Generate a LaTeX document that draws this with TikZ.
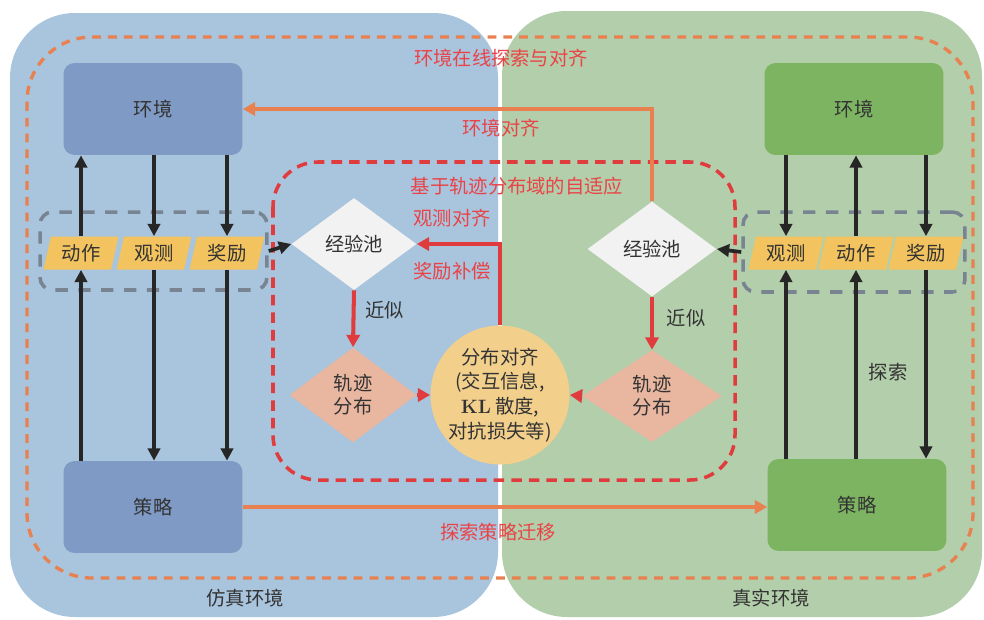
\documentclass[tikz,border=0pt]{standalone}
\usepackage{fontspec}
\newfontfamily\cjk{Noto Sans CJK SC}
\usetikzlibrary{shapes.geometric,arrows.meta}
\definecolor{simbg}{HTML}{A9C4DD}
\definecolor{realbg}{HTML}{B3CEAA}
\definecolor{simbox}{HTML}{7F9AC4}
\definecolor{realbox}{HTML}{7DB462}
\definecolor{sigyellow}{HTML}{F2C35E}
\definecolor{poolwhite}{HTML}{F2F2F2}
\definecolor{trajpink}{HTML}{E9B6A0}
\definecolor{distyellow}{HTML}{F2D08C}
\definecolor{orng}{HTML}{E8804F}
\definecolor{redline}{HTML}{E03C3E}
\definecolor{redtext}{HTML}{EA4347}
\definecolor{grayline}{HTML}{788491}
\definecolor{txtgray}{HTML}{333333}

\begin{document}
\begin{tikzpicture}[x=0.02cm,y=-0.02cm,
	every node/.style={font=\cjk\fontsize{11}{13}\selectfont, text=txtgray},
	box/.style={rounded corners=0.22cm, minimum width=3.58cm, minimum height=1.84cm},
	sig/.style={trapezium, trapezium left angle=75, trapezium right angle=105,
		trapezium stretches=true, fill=sigyellow, minimum width=1.5cm,
		minimum height=0.66cm, inner sep=0pt},
	grp/.style={draw=grayline, line width=2pt, dash pattern=on 7pt off 6pt,
		rounded corners=0.25cm, minimum width=4.54cm, minimum height=1.56cm},
	pool/.style={diamond, fill=poolwhite, inner sep=0pt},
	traj/.style={diamond, fill=trajpink, inner sep=0pt, align=center,
		font=\cjk\fontsize{11}{13}\selectfont},
	redlbl/.style={text=redtext},
	blk/.style={-{Triangle[length=7pt,width=7pt]}, line width=2.1pt, draw=black!85},
	orngarr/.style={-{Triangle[length=7pt,width=7.5pt]}, line width=2.1pt, draw=orng},
	redarr/.style={-{Triangle[length=7pt,width=7.5pt]}, line width=2.3pt, draw=redline}]

	\useasboundingbox (0,0) rectangle (984,619);
	\fill[white] (0,0) rectangle (984,619);

	\fill[simbg, rounded corners=1.3cm] (10,13) rectangle (498,617);
	\fill[realbg, rounded corners=1.3cm] (502,11) rectangle (982,617);

	\draw[orng, line width=1.9pt, dash pattern=on 5pt off 4pt, rounded corners=1.3cm] (27,37) rectangle (973,578);
	\draw[redline, line width=2pt, dash pattern=on 6pt off 4pt, rounded corners=0.9cm] (273,162) rectangle (735,480);

	\node[redlbl] (ttlonline) at (501,58) {环境在线探索与对齐};
	\node[redlbl] (ttladapt) at (517,186) {基于轨迹分布域的自适应};
	\node (simname) at (245,598) {仿真环境};
	\node (realname) at (771,598) {真实环境};

	% simulation side
	\node[box, fill=simbox] (simenv) at (153,109) {环境};
	\node[box, fill=simbox] (simpol) at (153,507) {策略};
	\node[grp] (sgrp) at (153.5,251) {};
	\node[sig] (sact) at (81,253) {动作};
	\node[sig] (sobs) at (154,253) {观测};
	\node[sig] (srew) at (227,253) {奖励};

	\draw[blk] (sact.south |- simpol.north) -- (sact.south);
	\draw[blk] (sact.north) -- (sact.north |- simenv.south);
	\draw[blk] (sobs.north |- simenv.south) -- (sobs.north);
	\draw[blk] (sobs.south) -- (sobs.south |- simpol.north);
	\draw[blk] (srew.north |- simenv.south) -- (srew.north);
	\draw[blk] (srew.south) -- (srew.south |- simpol.north);

	% real side
	\node[box, fill=realbox] (realenv) at (854,109) {环境};
	\node[box, fill=realbox] (realpol) at (857,505) {策略};
	\node[grp, minimum width=4.44cm, minimum height=1.6cm] (rgrp) at (854,252) {};
	\node[sig] (robs) at (786,253) {观测};
	\node[sig] (ract) at (856,253) {动作};
	\node[sig] (rrew) at (926,253) {奖励};

	\draw[blk] (robs.north |- realenv.south) -- (robs.north);
	\draw[blk] (robs.south |- realpol.north) -- (robs.south);
	\draw[blk] (ract.south |- realpol.north) -- (ract.south);
	\draw[blk] (ract.north) -- (ract.north |- realenv.south);
	\draw[blk] (rrew.north |- realenv.south) -- (rrew.north);
	\draw[blk] (rrew.south) -- (rrew.south |- realpol.north);
	\node (explore) at (888,372) {探索};

	% adaptation
	\node[pool, minimum width=2.5cm, minimum height=1.84cm] (spool) at (354,244) {经验池};
	\node[pool, minimum width=2.58cm, minimum height=1.9cm] (rpool) at (652,249) {经验池};
	\node[traj, minimum width=2.54cm, minimum height=1.9cm] (straj) at (353,395) {轨迹\\分布};
	\node[traj, minimum width=2.8cm, minimum height=1.84cm] (rtraj) at (652,396) {轨迹\\分布};
	\node[circle, fill=distyellow, minimum size=2.6cm, inner sep=0pt, align=center,
		font=\cjk\fontsize{11}{14}\selectfont] (dist) at (500,395)
		{分布对齐\\(交互信息,\\{\normalfont\bfseries KL} 散度,\\对抗损失等)};

	\draw[blk] (sgrp.east) -- (spool.west);
	\draw[blk] (rgrp.west) -- (rpool.east);

	\draw[redarr] (spool.south) -- (straj.north) node[pos=0.35, right=2pt] {近似};
	\draw[redarr] (rpool.south) -- (rtraj.north) node[pos=0.4, right=4pt] {近似};
	\draw[redarr] (straj.east) -- (dist.west);
	\draw[redarr] (rtraj.west) -- (dist.east);
	\draw[redarr] (dist.north) |- (spool.east);
	\node[redlbl] (obsalign) at (452,218) {观测对齐};
	\node[redlbl] (rewcomp) at (452,271) {奖励补偿};

	\draw[orngarr] (rpool.north) |- (simenv.east);
	\node[redlbl] (envalign) at (501,128) {环境对齐};
	\draw[orngarr] (simpol.east) -- (simpol.east -| realpol.west);
	\node[redlbl] (transfer) at (498,532) {探索策略迁移};
\end{tikzpicture}
\end{document}
